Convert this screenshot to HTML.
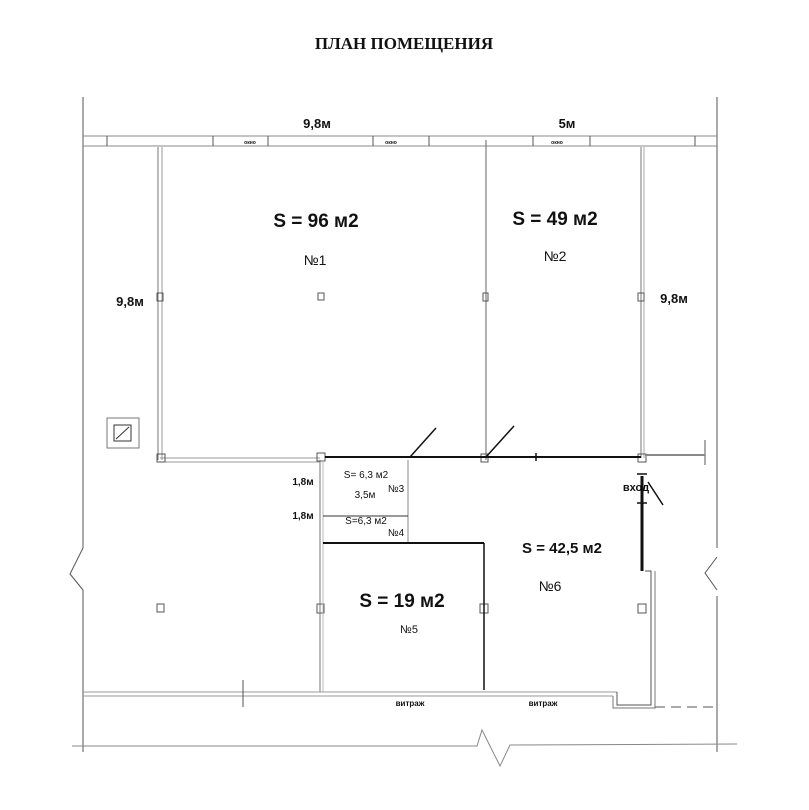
<!DOCTYPE html>
<html><head><meta charset="utf-8"><style>
html,body{margin:0;padding:0;background:#fff;}
svg{display:block;}
text{font-family:"Liberation Sans",sans-serif;fill:#111;}
</style></head><body>
<svg width="809" height="810" viewBox="0 0 809 810" xmlns="http://www.w3.org/2000/svg">
<rect width="809" height="810" fill="#fff"/>
<text x="404" y="49" text-anchor="middle" style="font-family:'Liberation Serif',serif;font-weight:bold;font-size:17px">ПЛАН ПОМЕЩЕНИЯ</text>
<g stroke="#555" fill="none" stroke-width="1">
<line x1="83" y1="97" x2="83" y2="548"/>
<line x1="83" y1="590" x2="83" y2="752"/>
<line x1="717" y1="97" x2="717" y2="548"/>
<line x1="717" y1="596" x2="717" y2="752"/>
<polyline points="83,548 70,574 83,590"/>
<polyline points="717,557 705,573 717,590"/>
<line x1="83" y1="136" x2="717" y2="136" stroke="#888"/>
<line x1="83" y1="146" x2="717" y2="146" stroke="#888"/>
<line x1="107" y1="136" x2="107" y2="146"/>
<line x1="213" y1="136" x2="213" y2="146"/>
<line x1="268" y1="136" x2="268" y2="146"/>
<line x1="373" y1="136" x2="373" y2="146"/>
<line x1="429" y1="136" x2="429" y2="146"/>
<line x1="533" y1="136" x2="533" y2="146"/>
<line x1="590" y1="136" x2="590" y2="146"/>
<line x1="695" y1="136" x2="695" y2="146"/>
<line x1="158" y1="147" x2="158" y2="460" stroke="#777"/>
<line x1="162" y1="147" x2="162" y2="460" stroke="#999"/>
<line x1="160" y1="458" x2="320" y2="458" stroke="#999"/>
<line x1="160" y1="462" x2="320" y2="462" stroke="#999"/>
<line x1="486" y1="140" x2="486" y2="460" stroke="#666"/>
<line x1="641" y1="147" x2="641" y2="458" stroke="#777"/>
<line x1="644" y1="147" x2="644" y2="458" stroke="#aaa"/>
<rect x="157" y="454" width="8" height="8"/>
<rect x="317" y="453" width="8" height="8"/>
<rect x="481" y="454" width="7" height="8"/>
<rect x="638" y="454" width="8" height="8"/>
<rect x="157" y="293" width="6" height="8"/>
<rect x="318" y="293" width="6" height="7"/>
<rect x="483" y="293" width="5" height="8"/>
<rect x="638" y="293" width="6" height="8"/>
<rect x="157" y="604" width="7" height="8"/>
<rect x="317" y="604" width="7" height="9"/>
<rect x="480" y="604" width="8" height="9"/>
<rect x="638" y="604" width="8" height="9"/>
<rect x="107" y="418" width="32" height="30" stroke="#777"/>
<rect x="114" y="425" width="17" height="16" stroke="#333"/>
<line x1="116" y1="439" x2="129" y2="427" stroke="#333"/>
<line x1="320" y1="460" x2="320" y2="692" stroke="#777"/>
<line x1="323" y1="460" x2="323" y2="692" stroke="#bbb"/>
<line x1="408" y1="460" x2="408" y2="543" stroke="#888"/>
<line x1="323" y1="516" x2="408" y2="516" stroke="#333"/>
<line x1="83" y1="692" x2="617" y2="692" stroke="#999"/>
<line x1="83" y1="696" x2="613" y2="696" stroke="#999"/>
<polyline points="617,692 617,705 651,705 651,571 645,571" stroke="#555"/>
<polyline points="613,696 613,708 655,708 655,571" stroke="#777"/>
<line x1="655" y1="707" x2="717" y2="707" stroke-dasharray="10,6"/>
<line x1="243" y1="680" x2="243" y2="707"/>
<line x1="705" y1="440" x2="705" y2="465"/>
<polyline points="72,746 477,746 482,730 500,766 510,745 737,744" stroke="#888"/>
</g>
<g stroke="#111" fill="none">
<line x1="325" y1="457" x2="641" y2="457" stroke-width="2"/>
<line x1="645" y1="455" x2="705" y2="455" stroke-width="2" stroke="#888"/>
<line x1="323" y1="543" x2="484" y2="543" stroke-width="2"/>
<line x1="484" y1="543" x2="484" y2="690" stroke-width="1.5"/>
<line x1="642" y1="476" x2="642" y2="571" stroke-width="3"/>
<line x1="637" y1="474" x2="647" y2="474" stroke-width="1.5"/>
<line x1="637" y1="503" x2="647" y2="503" stroke-width="1.5"/>
<line x1="536" y1="453" x2="536" y2="461" stroke-width="1.5"/>
<line x1="410" y1="457" x2="436" y2="428" stroke-width="1.5"/>
<line x1="486" y1="457" x2="514" y2="426" stroke-width="1.5"/>
<line x1="648" y1="482" x2="663" y2="505" stroke-width="1.5"/>
</g>
<g style="font-weight:bold">
<text x="317" y="128" text-anchor="middle" font-size="13">9,8м</text>
<text x="567" y="128" text-anchor="middle" font-size="13">5м</text>
<text x="130" y="306" text-anchor="middle" font-size="13">9,8м</text>
<text x="674" y="303" text-anchor="middle" font-size="13">9,8м</text>
<text x="316" y="227" text-anchor="middle" font-size="19">S = 96 м2</text>
<text x="555" y="225" text-anchor="middle" font-size="19">S = 49 м2</text>
<text x="402" y="607" text-anchor="middle" font-size="19">S = 19 м2</text>
<text x="562" y="553" text-anchor="middle" font-size="15">S = 42,5 м2</text>
<text x="636" y="491" text-anchor="middle" font-size="11">вход</text>
<text x="303" y="485" text-anchor="middle" font-size="10">1,8м</text>
<text x="303" y="519" text-anchor="middle" font-size="10">1,8м</text>
<text x="366" y="478" text-anchor="middle" font-size="10" style="font-weight:normal">S= 6,3 м2</text>
<text x="366" y="524" text-anchor="middle" font-size="10" style="font-weight:normal">S=6,3 м2</text>
<text x="365" y="498" text-anchor="middle" font-size="10" style="font-weight:normal">3,5м</text>
<text x="396" y="492" text-anchor="middle" font-size="10" style="font-weight:normal">№3</text>
<text x="396" y="536" text-anchor="middle" font-size="10" style="font-weight:normal">№4</text>
<text x="410" y="706" text-anchor="middle" font-size="8">витраж</text>
<text x="543" y="706" text-anchor="middle" font-size="8">витраж</text>
<text x="250" y="144" text-anchor="middle" font-size="5">окно</text>
<text x="391" y="144" text-anchor="middle" font-size="5">окно</text>
<text x="557" y="144" text-anchor="middle" font-size="5">окно</text>
</g>
<g font-size="14">
<text x="315" y="265" text-anchor="middle">№1</text>
<text x="555" y="261" text-anchor="middle">№2</text>
<text x="550" y="591" text-anchor="middle">№6</text>
<text x="409" y="633" text-anchor="middle" font-size="11">№5</text>
</g>
</svg>
</body></html>
